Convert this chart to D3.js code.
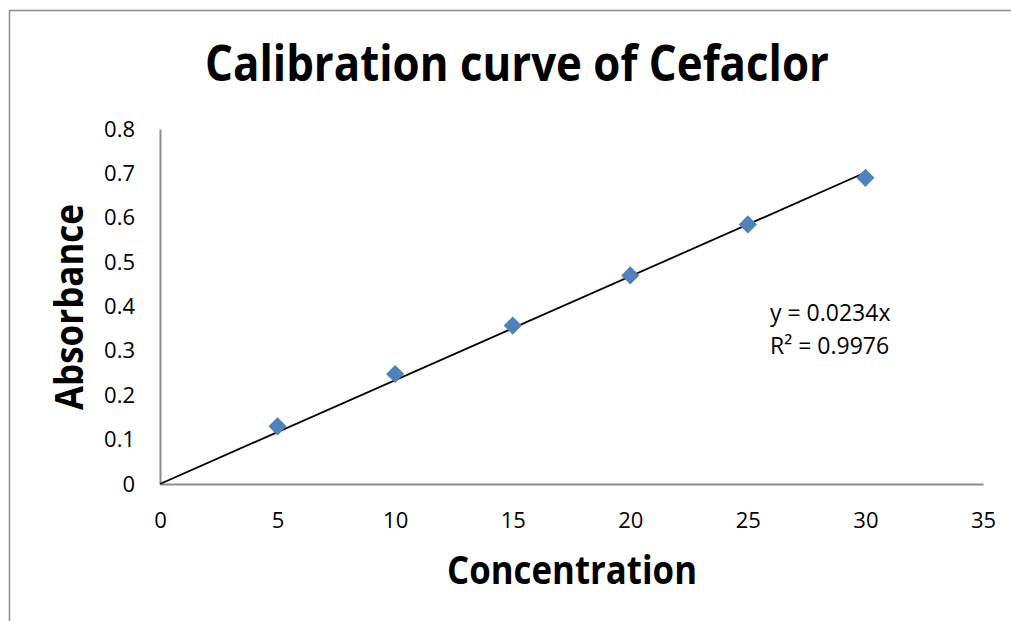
<!DOCTYPE html>
<html>
<head>
<meta charset="utf-8">
<script src="https://cdn.jsdelivr.net/npm/d3@7"></script>
<style>
  body { margin: 0; background: #fff; }
  text { font-family: "Open Sans", "Noto Sans", sans-serif; fill: #000; }
</style>
</head>
<body>
<svg id="chart" width="1011" height="621"></svg>
<script>
const concentration = [5, 10, 15, 20, 25, 30];
const absorbance = [0.13, 0.248, 0.357, 0.47, 0.585, 0.69];
const xTicks = [0, 5, 10, 15, 20, 25, 30, 35];
const yTicks = [0, 0.1, 0.2, 0.3, 0.4, 0.5, 0.6, 0.7, 0.8];
const slope = 0.0234;
const trendRange = [0, 30];
const equationLines = ['y = 0.0234x', 'R² = 0.9976'];

const svg = d3.select('#chart');

// outer chart border (only left/top visible in the picture)
svg.append('rect')
    .attr('x', 9.5).attr('y', 10.5)
    .attr('width', 1020).attr('height', 640)
    .attr('fill', 'none')
    .attr('stroke', '#8c8c8c')
    .attr('stroke-width', 1.5);

const x = d3.scaleLinear().domain([0, 35]).range([160, 983]);
const y = d3.scaleLinear().domain([0, 0.8]).range([484, 129]);

// fit a text element to a target width by scaling its font size
function fit(sel, size, target) {
    sel.style('font-size', size + 'px');
    const w = sel.node().getComputedTextLength();
    sel.style('font-size', (size * target / w) + 'px');
}

// axes
const xAxis = svg.append('g')
    .attr('transform', `translate(0,${y(0)})`)
    .call(d3.axisBottom(x).tickValues(xTicks).tickSize(0).tickFormat(d3.format('d')));
const yAxis = svg.append('g')
    .attr('transform', `translate(${x(0)},0)`)
    .call(d3.axisLeft(y).tickValues(yTicks).tickSize(0).tickPadding(25).tickFormat(d => d === 0 ? '0' : d3.format('.1f')(d)));

[xAxis, yAxis].forEach(a => {
    a.select('.domain').attr('stroke', '#8c8c8c').attr('stroke-width', 2);
    a.selectAll('text')
        .style('font-family', '"Open Sans", "Noto Sans", sans-serif')
        .style('font-size', '22px')
        .attr('fill', '#000');
});
xAxis.selectAll('text').attr('y', 44).attr('dy', 0);

// trendline
svg.append('line')
    .attr('x1', x(trendRange[0])).attr('y1', y(slope * trendRange[0]))
    .attr('x2', x(trendRange[1])).attr('y2', y(slope * trendRange[1]))
    .attr('stroke', '#000')
    .attr('stroke-width', 1.8);

// markers
const points = concentration.map((c, i) => ({c: c, a: absorbance[i]}));
svg.append('g').selectAll('path')
    .data(points)
    .enter()
    .append('path')
    .attr('d', d3.symbol().type(d3.symbolDiamond2).size(210))
    .attr('transform', d => `translate(${x(d.c)},${y(d.a)})`)
    .attr('fill', '#4f81bd');

// equation label
const eq = svg.append('text')
    .attr('x', 770)
    .attr('y', 321)
    .style('font-size', '23px');
eq.selectAll('tspan')
    .data(equationLines)
    .enter()
    .append('tspan')
    .attr('x', 770)
    .attr('dy', (d, i) => i === 0 ? 0 : 33)
    .text(d => d);

// titles (slightly stretched vertically, the original font is narrower)
const title = svg.append('text')
    .attr('transform', 'translate(517,81) scale(1,1.15)')
    .attr('text-anchor', 'middle')
    .style('font-weight', 'bold')
    .text('Calibration curve of Cefaclor');
fit(title, 44, 624);

const xLabel = svg.append('text')
    .attr('transform', 'translate(572,584) scale(1,1.12)')
    .attr('text-anchor', 'middle')
    .style('font-weight', 'bold')
    .text('Concentration');
fit(xLabel, 34, 250);

const yLabel = svg.append('text')
    .attr('transform', 'translate(83,307) rotate(-90) scale(1,1.12)')
    .attr('text-anchor', 'middle')
    .style('font-weight', 'bold')
    .text('Absorbance');
fit(yLabel, 34, 206);
</script>
</body>
</html>
